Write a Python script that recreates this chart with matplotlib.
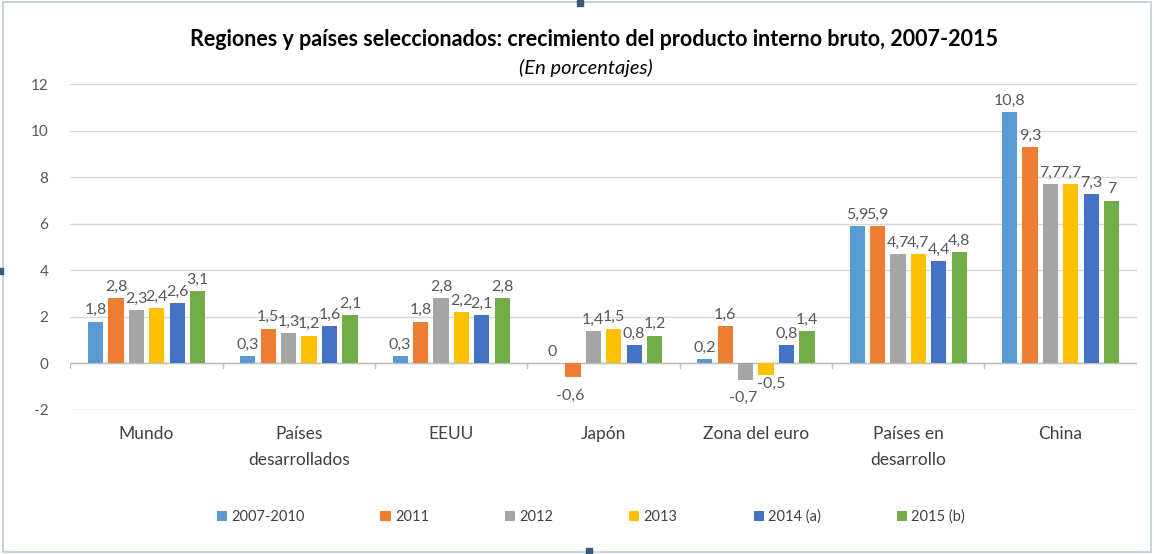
import matplotlib.pyplot as plt
import numpy as np
from matplotlib.patches import Rectangle

categories = ["Mundo", "Países\ndesarrollados", "EEUU", "Japón", "Zona del euro",
              "Países en\ndesarrollo", "China"]
series = ["2007-2010", "2011", "2012", "2013", "2014 (a)", "2015 (b)"]
colors = ["#5B9BD5", "#ED7D31", "#A5A5A5", "#FFC000", "#4472C4", "#70AD47"]

v_2007_2010 = [1.8, 0.3, 0.3, 0.0, 0.2, 5.9, 10.8]
v_2011 = [2.8, 1.5, 1.8, -0.6, 1.6, 5.9, 9.3]
v_2012 = [2.3, 1.3, 2.8, 1.4, -0.7, 4.7, 7.7]
v_2013 = [2.4, 1.2, 2.2, 1.5, -0.5, 4.7, 7.7]
v_2014 = [2.6, 1.6, 2.1, 0.8, 0.8, 4.4, 7.3]
v_2015 = [3.1, 2.1, 2.8, 1.2, 1.4, 4.8, 7.0]
values = [v_2007_2010, v_2011, v_2012, v_2013, v_2014, v_2015]

yticks = [-2, 0, 2, 4, 6, 8, 10, 12]

plt.rcParams['font.family'] = ['Lato', 'DejaVu Sans']

fig = plt.figure(figsize=(11.54, 5.54), dpi=100)
ax = fig.add_axes([0.061, 0.26, 0.924, 0.588])

x = np.arange(len(categories))
step = 0.134
width = 0.1
label_color = "#595959"

for i, (name, vals, col) in enumerate(zip(series, values, colors)):
    pos = x + (i - 2.5) * step
    bars = ax.bar(pos, vals, width=width, color=col, label=name, zorder=3)
    for b, v in zip(bars, vals):
        txt = ("%g" % v).replace(".", ",")
        cx = b.get_x() + b.get_width() / 2
        if v < 0:
            # small nudge keeps the two neighbouring negative labels apart
            dx, dy = (4, -1) if v == -0.5 else (-2, -8)
            ax.annotate(txt, (cx, v), xytext=(dx, dy), textcoords="offset points",
                        ha="center", va="top", fontsize=11.5, color=label_color)
        else:
            ax.annotate(txt, (cx, v), xytext=(0, 3), textcoords="offset points",
                        ha="center", va="bottom", fontsize=11.5, color=label_color)

ax.set_ylim(-2, 12)
ax.set_xlim(-0.5, len(categories) - 0.5)
ax.set_yticks(yticks)
ax.set_yticklabels([str(t) for t in yticks], fontsize=11, color=label_color)
ax.yaxis.grid(True, color="#D9D9D9", linewidth=1, zorder=0)
ax.set_axisbelow(True)
ax.tick_params(axis="y", length=0, pad=16)
ax.tick_params(axis="x", length=0)
ax.set_xticks([])
for s in ax.spines.values():
    s.set_visible(False)

# zero line with category separators
ax.axhline(0, color="#BFBFBF", linewidth=1, zorder=2)
for b in np.arange(-0.5, len(categories), 1.0):
    ax.plot([b, b], [0, -0.2], color="#BFBFBF", linewidth=1, zorder=2)

for xi, cat in zip(x, categories):
    ax.text(xi, -2.7, cat, ha="center", va="top", fontsize=12.5,
            color="#404040", linespacing=1.75)

fig.text(0.515, 0.928, "Regiones y países seleccionados: crecimiento del producto interno bruto, 2007-2015",
         ha="center", va="center", fontsize=15.5, fontweight="bold", color="#000000")
fig.text(0.508, 0.877, "(En porcentajes)", ha="center", va="center", fontsize=14.5,
         style="italic", color="#000000")

fig.legend(loc="center", bbox_to_anchor=(0.512, 0.067), ncol=6, frameon=False,
           fontsize=10.5, handlelength=0.7, handleheight=0.7, handletextpad=0.3,
           columnspacing=5.2, labelcolor="#404040")

# chart frame
fig.patches.append(Rectangle((0.003, 0.004), 0.994, 0.992, transform=fig.transFigure,
                             fill=False, edgecolor="#C9D3DD", linewidth=1.5))
for (mx, my, mw, mh) in [(0.500, 0.990, 0.005, 0.010), (0.000, 0.505, 0.003, 0.012),
                         (0.508, 0.000, 0.005, 0.010)]:
    fig.patches.append(Rectangle((mx, my), mw, mh, transform=fig.transFigure,
                                 color="#3B5A7A"))

fig.savefig("out.png", dpi=100)
